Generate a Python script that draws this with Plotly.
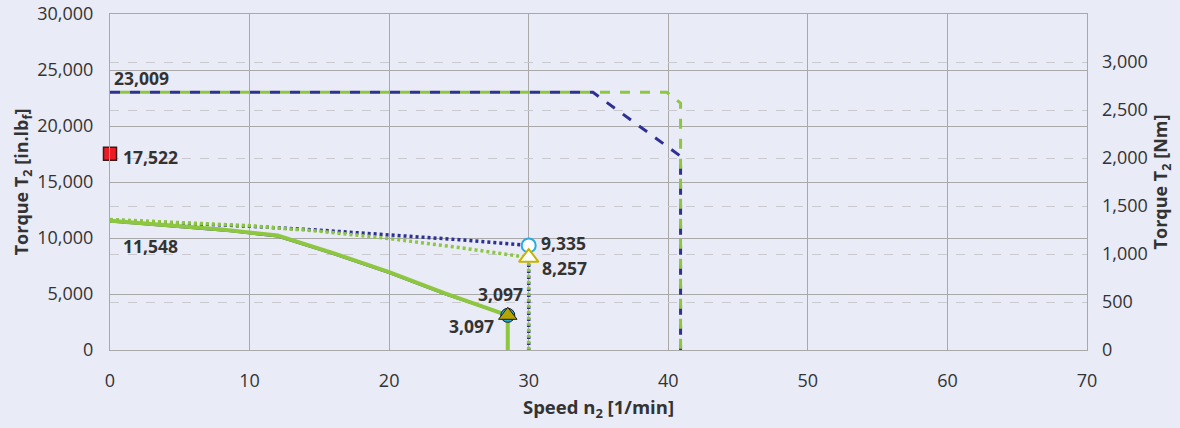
import plotly.graph_objects as go

# Speed n2 [1/min] / torque T2 [in.lbf]
max_speed_a = [0, 34.6, 40.88, 40.88]
max_torque_a = [23009, 23009, 17300, 0]
max_speed_b = [0, 39.9, 40.88, 40.88]
max_torque_b = [23009, 23009, 22040, 0]

cont_speed = [0, 4, 8, 12, 16, 20, 24, 28.5, 28.5]
cont_torque_a = [11480, 11080, 10680, 10140, 8570, 6870, 4980, 3097, 0]
cont_torque_b = [11548, 11150, 10750, 10220, 8650, 6950, 5050, 3097, 0]

peak_speed = [0, 5, 10, 15, 20, 25, 30, 30]
peak_torque_a = [11600, 11330, 11050, 10700, 10300, 9850, 9335, 0]
peak_torque_b = [11650, 11400, 11100, 10600, 9950, 9150, 8257, 0]

start_torque = 17522
op_speed = 28.5
op_torque = 3097

left_ticks = [0, 5000, 10000, 15000, 20000, 25000, 30000]
right_ticks = [0, 500, 1000, 1500, 2000, 2500, 3000]
speed_ticks = [0, 10, 20, 30, 40, 50, 60, 70]

NAVY = "#2e3192"
GREEN = "#8dc63f"
SKY = "#29abe2"
OLIVE = "#c8b400"
BG = "#e9ebf6"
TXT = "#333333"
FONT = "Open Sans"

fig = go.Figure()

# maximum torque envelopes
fig.add_trace(go.Scatter(x=max_speed_a, y=max_torque_a, mode="lines",
                         line=dict(color=NAVY, width=3, dash="10px,10px")))
fig.add_trace(go.Scatter(x=max_speed_b, y=max_torque_b, mode="lines",
                         line=dict(color=GREEN, width=3, dash="0px,10px,10px,0px")))

# peak torque curves (dotted)
fig.add_trace(go.Scatter(x=peak_speed, y=peak_torque_a, mode="lines",
                         line=dict(color=NAVY, width=3.5, dash="3px,3px")))
fig.add_trace(go.Scatter(x=peak_speed, y=peak_torque_b, mode="lines",
                         line=dict(color=GREEN, width=3.5, dash="3px,3px")))

# continuous torque curves
fig.add_trace(go.Scatter(x=cont_speed, y=cont_torque_a, mode="lines",
                         line=dict(color=NAVY, width=2)))
fig.add_trace(go.Scatter(x=cont_speed, y=cont_torque_b, mode="lines",
                         line=dict(color=GREEN, width=4)))

# markers
fig.add_trace(go.Scatter(x=[peak_speed[-2]], y=[peak_torque_a[-2]], mode="markers",
                         marker=dict(symbol="circle", size=14, color="white",
                                     line=dict(color=SKY, width=2))))
fig.add_trace(go.Scatter(x=[peak_speed[-2]], y=[peak_torque_b[-2]], mode="markers",
                         marker=dict(symbol="triangle-up", size=17, color="white",
                                     line=dict(color=OLIVE, width=2))))
fig.add_trace(go.Scatter(x=[op_speed], y=[op_torque], mode="markers",
                         marker=dict(symbol="circle", size=14, color=SKY,
                                     line=dict(color="#1a1a1a", width=1))))
fig.add_trace(go.Scatter(x=[op_speed], y=[op_torque], mode="markers",
                         marker=dict(symbol="triangle-up", size=16, color="#b5a400",
                                     line=dict(color="#1a1a1a", width=1))))
fig.add_trace(go.Scatter(x=[0], y=[start_torque], mode="markers", cliponaxis=False,
                         marker=dict(symbol="square", size=13, color="#ed1c24",
                                     line=dict(color="#3a1a1a", width=1.5))))

# right-hand Nm axis
fig.add_trace(go.Scatter(x=[0], y=[0], yaxis="y2", mode="markers",
                         marker=dict(opacity=0), hoverinfo="skip"))


def label(x, y, xanchor, xshift, yshift):
    fig.add_annotation(x=x, y=y, text=f"{y:,}", showarrow=False, xanchor=xanchor,
                       yanchor="middle", xshift=xshift, yshift=yshift,
                       font=dict(family=FONT, size=17.5, color=TXT, weight="bold"))


label(max_speed_a[0], max_torque_a[0], "left", 2, 14)
label(0, start_torque, "left", 11, -3)
label(cont_speed[0], cont_torque_b[0], "left", 11, -25)
label(peak_speed[-2], peak_torque_a[-2], "left", 10, 2)
label(peak_speed[-2], peak_torque_b[-2], "left", 11, -10)
label(op_speed, op_torque, "right", 17, 21)
label(op_speed, op_torque, "right", -12, -11)

fig.update_layout(
    width=1180, height=428,
    margin=dict(l=110, r=93, t=14, b=78),
    paper_bgcolor=BG, plot_bgcolor=BG,
    showlegend=False,
    font=dict(family=FONT, size=18, color=TXT),
    xaxis=dict(range=[0, 70], tickvals=speed_ticks, showgrid=True, gridcolor="#a9a9a9",
               gridwidth=1, zeroline=False, showline=True, linecolor="#a9a9a9",
               mirror=True, ticks="", ticklabelstandoff=14, ticklabeloverflow="allow",
               automargin=False,
               title=dict(text="<b>Speed n<sub>2</sub> [1/min]</b>", standoff=10,
                          font=dict(size=18.5))),
    yaxis=dict(range=[0, 30000], tickvals=left_ticks, tickformat=",d", showgrid=True,
               gridcolor="#a9a9a9", gridwidth=1, zeroline=False, showline=True,
               linecolor="#a9a9a9", mirror=True, ticks="", ticklabelstandoff=12,
               ticklabeloverflow="allow", automargin=False,
               title=dict(text="<b>Torque T<sub>2</sub> [in.lb<sub>f</sub>]</b>",
                          standoff=3, font=dict(size=18))),
    yaxis2=dict(range=[0, 3500], tickvals=right_ticks, tickformat=",d", overlaying="y",
                side="right", showgrid=True, gridcolor="#c9c9cf", griddash="dash",
                gridwidth=1, zeroline=False, showline=False, ticks="",
                ticklabelstandoff=14, automargin=False,
                title=dict(text="<b>Torque T<sub>2</sub> [Nm]</b>", standoff=7,
                           font=dict(size=18))),
)

fig.write_html("out.html")
